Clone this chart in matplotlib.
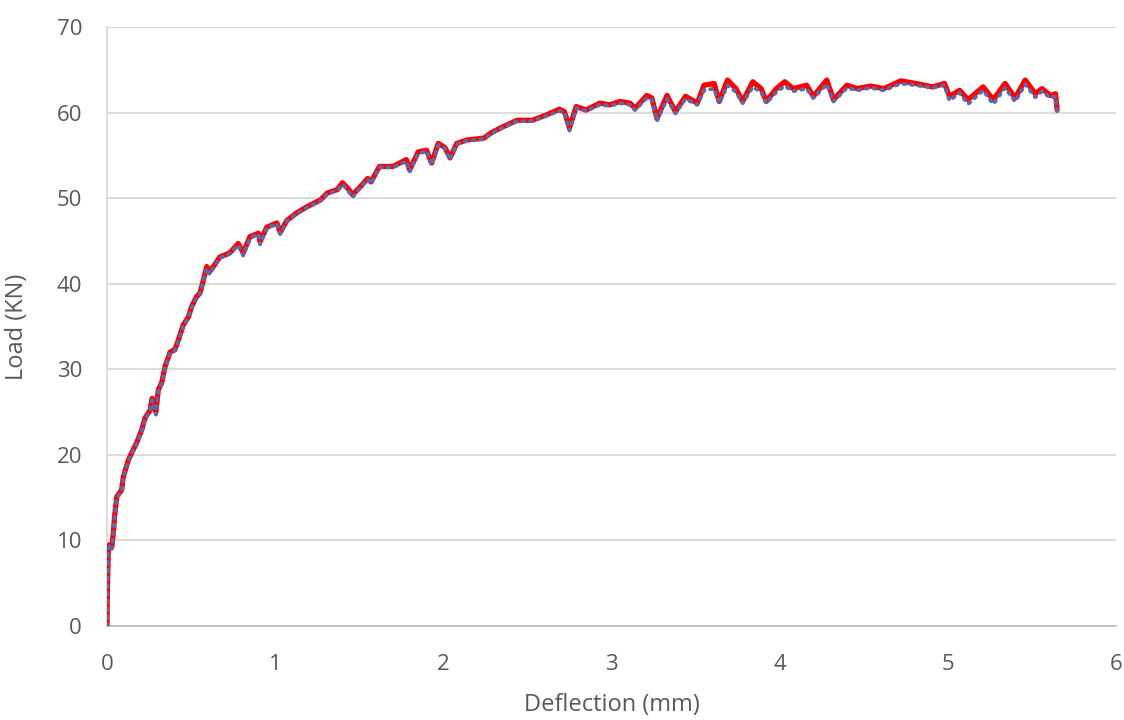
import matplotlib
matplotlib.use("Agg")
import matplotlib.pyplot as plt

# Load-deflection test record (two channels)
deflection = [0, 0.002, 0.008, 0.015, 0.028, 0.038, 0.045, 0.058, 0.087, 0.097,
              0.127, 0.156, 0.176, 0.206, 0.226, 0.256, 0.268, 0.291, 0.305, 0.325,
              0.345, 0.375, 0.404, 0.424, 0.454, 0.484, 0.503, 0.533, 0.553, 0.573,
              0.593, 0.61, 0.64, 0.67, 0.73, 0.78, 0.81, 0.85, 0.90, 0.91,
              0.95, 1.01, 1.03, 1.07, 1.13, 1.19, 1.27, 1.31, 1.37, 1.40,
              1.43, 1.46, 1.50, 1.55, 1.57, 1.62, 1.70, 1.78, 1.80, 1.85,
              1.90, 1.93, 1.97, 2.01, 2.04, 2.08, 2.14, 2.24, 2.29, 2.35,
              2.44, 2.53, 2.61, 2.69, 2.72, 2.75, 2.79, 2.85, 2.93, 2.99,
              3.05, 3.11, 3.14, 3.21, 3.24, 3.27, 3.33, 3.38, 3.44, 3.51,
              3.55, 3.61, 3.64, 3.69, 3.74, 3.78, 3.84, 3.89, 3.92, 3.98,
              4.03, 4.08, 4.16, 4.20, 4.28, 4.32, 4.40, 4.46, 4.54, 4.62,
              4.72, 4.81, 4.91, 4.98, 5.01, 5.07, 5.12, 5.21, 5.27, 5.34,
              5.40, 5.46, 5.52, 5.56, 5.61, 5.64, 5.65]

load_red = [0, 3.9, 8.9, 9.5, 9.2, 10.9, 12.8, 15.1, 15.9, 17.4,
            19.4, 20.6, 21.4, 22.9, 24.3, 25.2, 26.6, 25.0, 27.6, 28.4,
            30.3, 32.0, 32.3, 33.4, 35.2, 36.1, 37.3, 38.5, 38.9, 40.4,
            42.0, 41.4, 42.2, 43.1, 43.6, 44.7, 43.6, 45.5, 45.9, 44.9,
            46.6, 47.1, 46.0, 47.4, 48.3, 49.0, 49.8, 50.6, 51.0, 51.8,
            51.2, 50.4, 51.2, 52.3, 51.9, 53.7, 53.7, 54.5, 53.3, 55.4,
            55.6, 54.1, 56.4, 55.9, 54.7, 56.4, 56.8, 57.0, 57.7, 58.3,
            59.1, 59.1, 59.7, 60.4, 60.1, 58.2, 60.7, 60.3, 61.1, 60.9,
            61.3, 61.1, 60.5, 62.0, 61.7, 59.3, 62.0, 60.1, 61.9, 61.1,
            63.2, 63.4, 61.3, 63.8, 62.8, 61.3, 63.6, 62.8, 61.3, 62.8,
            63.6, 62.8, 63.2, 61.9, 63.8, 61.5, 63.2, 62.8, 63.1, 62.8,
            63.7, 63.4, 63.0, 63.4, 61.9, 62.6, 61.5, 63.0, 61.5, 63.4,
            61.7, 63.8, 62.2, 62.8, 62.0, 62.2, 60.3]

load_blue = [0, 3.9, 8.7, 9.5, 9.0, 10.9, 12.6, 15.0, 15.7, 17.3,
             19.3, 20.5, 21.3, 22.8, 24.2, 25.1, 26.4, 24.7, 27.5, 28.3,
             30.2, 31.9, 32.2, 33.3, 35.1, 36.0, 37.2, 38.4, 38.8, 40.3,
             41.8, 41.1, 42.1, 43.0, 43.5, 44.5, 43.3, 45.3, 45.8, 44.6,
             46.5, 47.0, 45.8, 47.3, 48.2, 48.9, 49.7, 50.5, 50.9, 51.6,
             51.0, 50.1, 51.1, 52.2, 51.7, 53.6, 53.6, 54.3, 53.1, 55.2,
             55.5, 53.9, 56.2, 55.8, 54.5, 56.3, 56.7, 56.9, 57.6, 58.2,
             59.0, 59.0, 59.6, 60.2, 60.0, 57.9, 60.5, 60.2, 60.9, 60.8,
             61.1, 60.9, 60.3, 61.7, 61.5, 59.0, 61.6, 59.9, 61.6, 60.9,
             62.6, 62.8, 61.1, 63.2, 62.4, 61.1, 63.0, 62.4, 61.1, 62.4,
             63.1, 62.5, 62.8, 61.7, 63.3, 61.3, 62.9, 62.6, 62.9, 62.6,
             63.4, 63.2, 62.9, 63.2, 61.4, 62.3, 61.0, 62.6, 61.0, 62.9,
             61.3, 63.3, 61.8, 62.5, 61.7, 61.9, 60.0]

x_ticks = [0, 1, 2, 3, 4, 5, 6]
y_ticks = [0, 10, 20, 30, 40, 50, 60, 70]

text_color = "#595959"
grid_color = "#D9D9D9"

plt.rcParams["font.family"] = ["Open Sans", "DejaVu Sans"]

fig = plt.figure(figsize=(11.24, 7.2), dpi=100)
ax = fig.add_axes([0.0952, 0.1306, 0.8977, 0.8319])

ax.plot(deflection, load_red, color="#FF0000", lw=3.8, solid_joinstyle="round",
        solid_capstyle="round", zorder=3)
ax.plot(deflection, load_blue, color="#5A69AA", lw=2.8, linestyle=(0, (0.5, 1.5)),
        dash_capstyle="round", zorder=4)

ax.set_xlim(0, 6)
ax.set_ylim(0, 70)
ax.set_xticks(x_ticks)
ax.set_yticks(y_ticks)
ax.set_xticklabels([str(v) for v in x_ticks])
ax.set_yticklabels([str(v) for v in y_ticks])

ax.grid(axis="y", color=grid_color, lw=1.3, zorder=0)
ax.set_axisbelow(True)
for side in ("top", "right"):
    ax.spines[side].set_visible(False)
ax.spines["left"].set_color(grid_color)
ax.spines["left"].set_linewidth(1.3)
ax.spines["bottom"].set_color("#BFBFBF")
ax.spines["bottom"].set_linewidth(1.3)

ax.tick_params(axis="both", length=0, labelsize=16, labelcolor=text_color)
ax.tick_params(axis="x", pad=20)
ax.tick_params(axis="y", pad=18)

ax.set_xlabel("Deflection (mm)", fontsize=17, color=text_color, va="center")
ax.set_ylabel("Load (KN)", fontsize=17, color=text_color, va="center")
ax.xaxis.set_label_coords(0.5, -0.132)
ax.yaxis.set_label_coords(-0.089, 0.5)

fig.savefig("out.png", dpi=100, facecolor="white")
